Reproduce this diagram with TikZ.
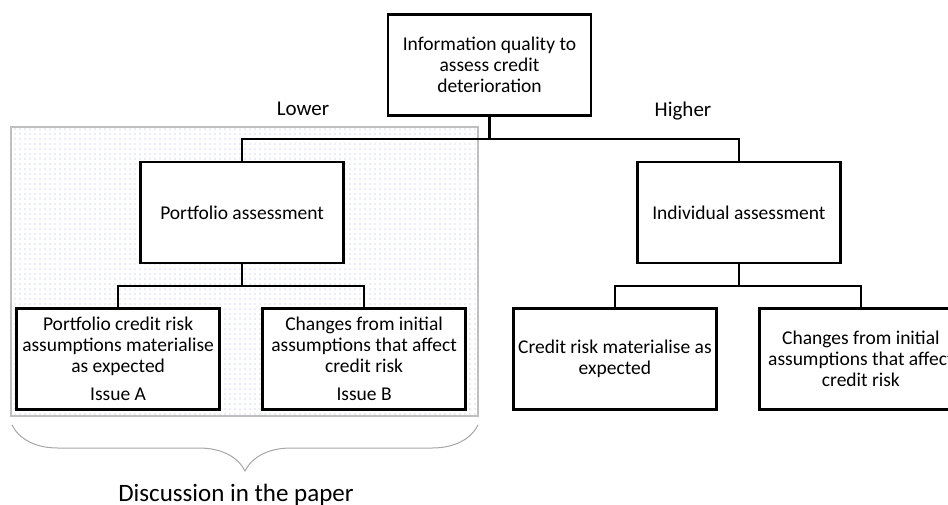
\documentclass[tikz,border=0pt]{standalone}
\usepackage{fontspec}
\setmainfont{Carlito}
\usetikzlibrary{positioning,patterns.meta,decorations.pathreplacing}
\definecolor{dotblue}{RGB}{120,150,200}

\begin{document}
\begin{tikzpicture}[x=1pt,y=-1pt,
  box/.style={draw, line width=2.4pt, fill=white, minimum width=203pt, minimum height=101pt, inner sep=2pt, align=center, font=\fontsize{19.5}{21}\selectfont},
  conn/.style={line width=2.4pt},
  lbl/.style={anchor=base, font=\fontsize{21}{24}\selectfont}]
\useasboundingbox (0,0) rectangle (948,504);
\draw[gray!50, line width=2.5pt, pattern={Dots[distance=5pt, radius=0.65pt]}, pattern color=dotblue!70] (11,127) rectangle (478,416);
\node[box] (q) at (489.5,65) {Information quality to\\assess credit\\deterioration};
\node[box, below left=44pt and 42pt of q] (p) {Portfolio assessment};
\node[box, below right=44pt and 44pt of q] (i) {Individual assessment};
\node[box, below=43pt of p, xshift=-124pt] (p1) {Portfolio credit risk\\assumptions materialise\\as expected\\[7pt]Issue A};
\node[box, below=43pt of p, xshift=122pt] (p2) {Changes from initial\\assumptions that affect\\credit risk\\[7pt]Issue B};
\node[box, below=43pt of i, xshift=-124pt] (i1) {Credit risk materialise as\\expected};
\node[box, below=43pt of i, xshift=122pt] (i2) {Changes from initial\\assumptions that affect\\credit risk};
\draw[conn] (q.south) -- ++(0,22) -| (p.north);
\draw[conn] (q.south) -- ++(0,22) -| (i.north);
\draw[conn] (p.south) -- ++(0,22) -| (p1.north);
\draw[conn] (p.south) -- ++(0,22) -| (p2.north);
\draw[conn] (i.south) -- ++(0,22) -| (i1.north);
\draw[conn] (i.south) -- ++(0,22) -| (i2.north);
\node[lbl] (lo) at (303,115) {Lower};
\node[lbl] (hi) at (683,116) {Higher};
% brace under the shaded part
\coordinate (bl) at (12,425);
\coordinate (br) at (478,425);
\draw[gray!70, line width=1pt, decorate, decoration={brace, mirror, amplitude=46pt}] (bl) -- (br);
\node[anchor=base, font=\fontsize{25}{28}\selectfont] (disc) at (236,501) {Discussion in the paper};
\end{tikzpicture}
\end{document}
